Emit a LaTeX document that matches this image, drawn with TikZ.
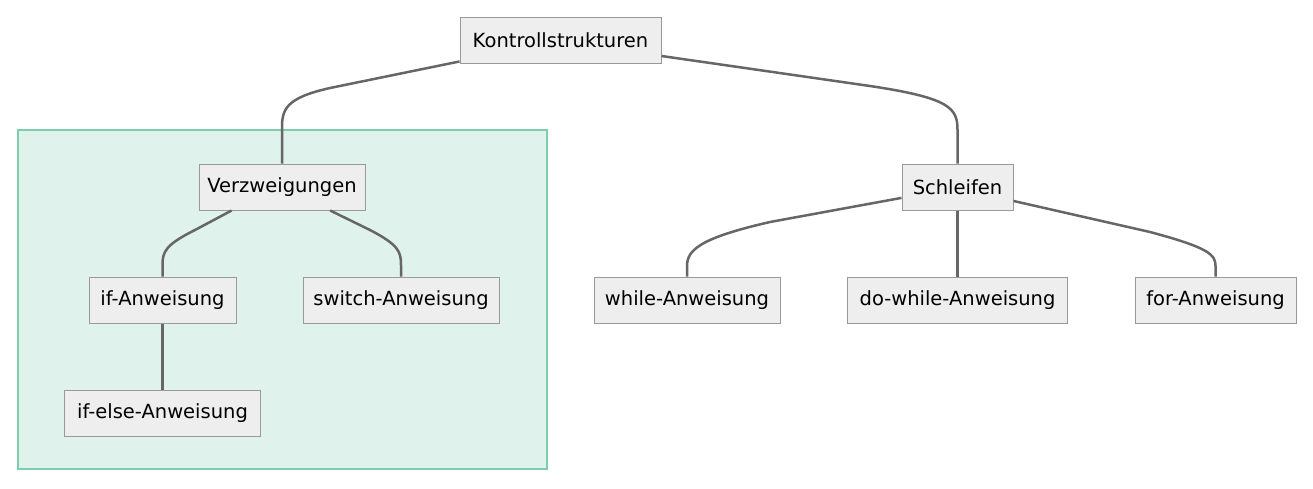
\documentclass[tikz,border=0pt]{standalone}
\usepackage{fontspec}
\setmainfont{DejaVu Sans}
\definecolor{boxfill}{HTML}{EEEEEE}
\definecolor{boxline}{HTML}{999999}
\definecolor{edgecol}{HTML}{666666}
\definecolor{clusterfill}{HTML}{DFF2EB}
\definecolor{clusterline}{HTML}{7DCEAA}

\begin{document}
\begin{tikzpicture}[x=1pt,y=1pt,yscale=-1,xscale=1,
	box/.style={draw=boxline,fill=boxfill,line width=1pt,minimum height=46pt,inner sep=0pt,font=\fontsize{19.5}{23}\selectfont},
	edge/.style={draw=edgecol,line width=2.5pt},
	cluster/.style={draw=clusterline,fill=clusterfill,line width=2pt}]
		\useasboundingbox (0,0) rectangle (1313,488);
		
		% Cluster
		\draw[cluster] (18,130) rectangle (547,469);
		
		% Nodes
		\node[box,minimum width=201pt] (kontroll) at (560.5,40) {Kontrollstrukturen};
		\node[box,minimum width=166pt] (verzw) at (282,187) {Verzweigungen};
		\node[box,minimum width=111pt] (schleifen) at (957.5,187) {Schleifen};
		\node[box,minimum width=147pt] (if) at (162.5,300) {if-Anweisung};
		\node[box,minimum width=196pt] (switch) at (401,300) {switch-Anweisung};
		\node[box,minimum width=196pt] (ifelse) at (162.5,413) {if-else-Anweisung};
		\node[box,minimum width=186pt] (while) at (687,300) {while-Anweisung};
		\node[box,minimum width=220pt] (dowhile) at (957.5,300) {do-while-Anweisung};
		\node[box,minimum width=161pt] (for) at (1215.5,300) {for-Anweisung};
		
		% Edges
		\draw[edge] (kontroll.192) -- (330,88) .. controls (285,98) and (282,110) .. (282,128) -- (verzw.north);
		\draw[edge] (kontroll.351.5) -- (870,86) .. controls (950,98) and (957.5,108) .. (957.5,130) -- (schleifen.north);
		\draw[edge] (verzw.205.6) -- (195,230) .. controls (165,245) and (162.5,252) .. (162.5,265) -- (if.north);
		\draw[edge] (verzw.334.4) -- (370,230) .. controls (399,245) and (401,252) .. (401,265) -- (switch.north);
		\draw[edge] (if) -- (ifelse);
		\draw[edge] (schleifen.191.2) -- (770,222) .. controls (700,238) and (687,250) .. (687,266) -- (while.north);
		\draw[edge] (schleifen) -- (dowhile);
		\draw[edge] (schleifen.346.8) -- (1150,232) .. controls (1210,248) and (1215.5,255) .. (1215.5,266) -- (for.north);
		
\end{tikzpicture}
\end{document}
